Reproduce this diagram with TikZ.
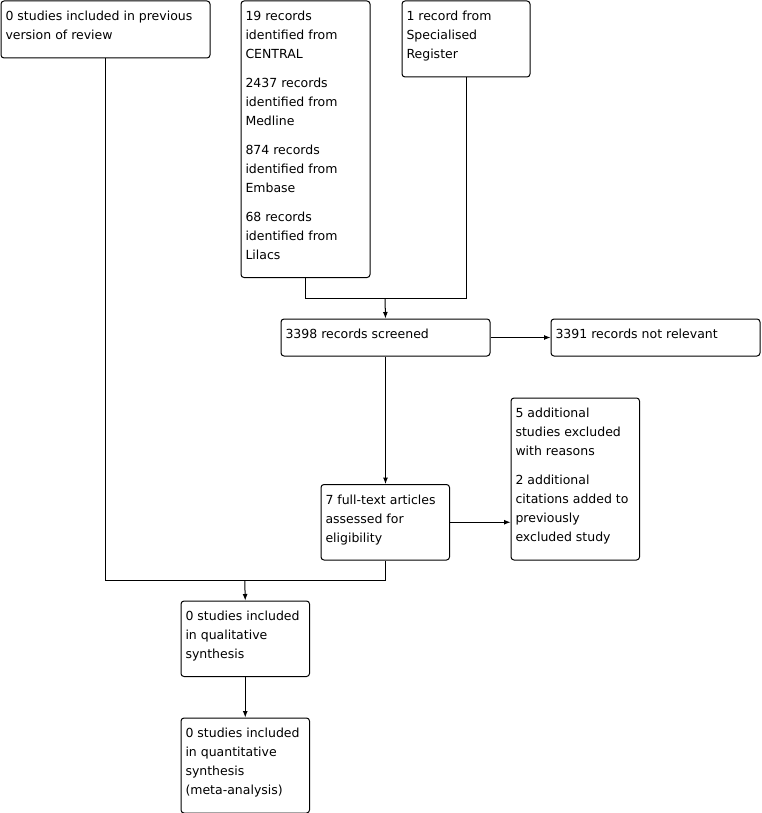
\documentclass[tikz,border=0pt]{standalone}
\usepackage{fontspec}
\setmainfont{DejaVu Sans}
\usetikzlibrary{arrows.meta}
\newcommand\bxc[3]{\begin{minipage}[c][#2pt][t]{#1pt}\raggedright\setlength\baselineskip{19pt}\setlength\parskip{10pt}\rule{0pt}{19.7pt}#3\end{minipage}}
\tikzset{
  box/.style={draw=black, line width=1pt, rounded corners=3pt, anchor=north west,
    inner xsep=4.5pt, inner ysep=0pt, font=\fontsize{12.5}{19}\selectfont},
  conn/.style={draw=black, line width=1pt},
  arr/.style={conn, -{Latex[length=6.5pt,width=5pt]}}
}
\begin{document}
\begin{tikzpicture}[x=1pt,y=-1pt]
\useasboundingbox[fill=white] (0,0) rectangle (762,813);
\node[box] (A) at (0.5,0.5) {\bxc{200}{57}{0 studies included in previous\\version of review}};
\node[box] (B) at (240.5,0.5) {\bxc{120}{276.5}{19 records\\identified from\\CENTRAL\par 2437 records\\identified from\\Medline\par 874 records\\identified from\\Embase\par 68 records\\identified from\\Lilacs}};
\node[box] (C) at (401.5,0.5) {\bxc{119}{76}{1 record from\\Specialised\\Register}};
\node[box] (D) at (280.5,318.5) {\bxc{200}{37}{3398 records screened}};
\node[box] (E) at (550.5,318.5) {\bxc{200}{37}{3391 records not relevant}};
\node[box] (G) at (510.5,397.5) {\bxc{119.5}{162}{5 additional\\studies excluded\\with reasons\par 2 additional\\citations added to\\previously\\excluded study}};
\node[box] (F) at (320.5,484) {\bxc{119.5}{75.5}{7 full-text articles\\assessed for\\eligibility}};
\node[box] (H) at (180.5,600.5) {\bxc{119.5}{75.5}{0 studies included\\in qualitative\\synthesis}};
\node[box] (I) at (180.5,717.5) {\bxc{119.5}{95}{0 studies included\\in quantitative\\synthesis\\(meta-analysis)}};
\coordinate (m1) at (385,298.5);
\coordinate (m2) at (244.75,580.5);
\draw[conn] (B.south) |- (m1) -| (C.south);
\draw[arr] (m1) -- (D.north);
\draw[arr] (D.east) -- (E.west);
\draw[arr] (D.south) -- (D.south |- F.north);
\draw[arr] (F.east) -- (F.east -| G.west);
\draw[conn] (A.south) |- (m2) -| (F.south);
\draw[arr] (m2) -- (H.north);
\draw[arr] (H.south) -- (I.north);
\end{tikzpicture}
\end{document}
